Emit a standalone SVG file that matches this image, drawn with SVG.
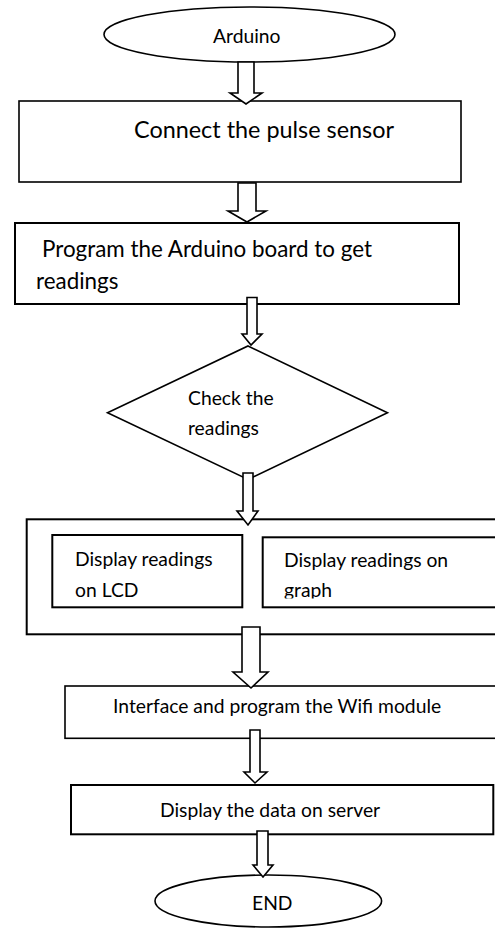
<svg xmlns="http://www.w3.org/2000/svg" width="495" height="932" viewBox="0 0 495 932">
<style>
.s{fill:#fff;stroke:#000;stroke-width:1.6}
.t{font-family:Lato,"Liberation Sans",sans-serif;fill:#000;font-size:19.3px}
.a{fill:#fff;stroke:#000;stroke-width:1.6;stroke-linejoin:miter}
</style>
<defs>
<clipPath id="gclip"><rect x="262" y="537" width="233" height="61.5"/></clipPath>
</defs>
<rect width="495" height="932" fill="#fff"/>
<g id="arduino">
<ellipse class="s" cx="249.5" cy="34.5" rx="145.5" ry="27.5"/>
<text class="t" x="213" y="43">Arduino</text>
</g>
<g id="connect">
<rect class="s" x="19" y="101" width="442" height="81"/>
<text class="t" x="134" y="138" style="font-size:23.4px">Connect the pulse sensor</text>
</g>
<g id="program">
<rect class="s" x="15" y="223" width="444" height="81" style="stroke-width:2"/>
<text class="t" x="42" y="257" style="font-size:22.4px">Program the Arduino board to get</text>
<text class="t" x="36" y="289" style="font-size:22.4px">readings</text>
</g>
<g id="check">
<polygon class="s" points="248,346 387.5,412.7 248,479.4 107.5,412.7"/>
<text class="t" x="188" y="405">Check the</text>
<text class="t" x="188" y="435">readings</text>
</g>
<g id="display">
<rect class="s" x="26.7" y="519.3" width="480" height="115" style="stroke-width:2"/>
<g id="lcd">
<rect class="s" x="52.3" y="535" width="190" height="72.3" style="stroke-width:2"/>
<text class="t" x="75" y="566">Display readings</text>
<text class="t" x="75" y="597">on LCD</text>
</g>
<g id="graph">
<rect class="s" x="262.7" y="537.3" width="240" height="70" style="stroke-width:2"/>
<text class="t" x="284" y="567">Display readings on</text>
<text class="t" x="284" y="597" clip-path="url(#gclip)">graph</text>
</g>
</g>
<g id="interface">
<rect class="s" x="65" y="686" width="440" height="52.3"/>
<text class="t" x="113" y="713">Interface and program the Wifi module</text>
</g>
<g id="server">
<rect class="s" x="71" y="785" width="422.3" height="49.3" style="stroke-width:2"/>
<text class="t" x="160" y="817">Display the data on server</text>
</g>
<g id="end">
<ellipse class="s" cx="268.3" cy="901" rx="113.3" ry="26"/>
<text class="t" x="252" y="910">END</text>
</g>
<g id="connectors">
<polygon class="a" points="238,62 254,62 254,93 262,93 246,104 230,93 238,93"/>
<polygon class="a" points="238,183 256,183 256,211 266,211 247,222 228,211 238,211"/>
<polygon class="a" points="247,297.5 257,297.5 257,334 262,334 251,345 242,334 247,334"/>
<polygon class="a" points="243,473 253,473 253,511 258,511 248,525 237,511 243,511"/>
<polygon class="a" points="242,627 260,627 260,672 268,672 251,688 233,672 242,672"/>
<polygon class="a" points="250,730 260,730 260,772 267,772 255,783 244,772 250,772"/>
<polygon class="a" points="257,831 268,831 268,865 273,865 263,877 253,865 257,865"/>
</g>
</svg>
